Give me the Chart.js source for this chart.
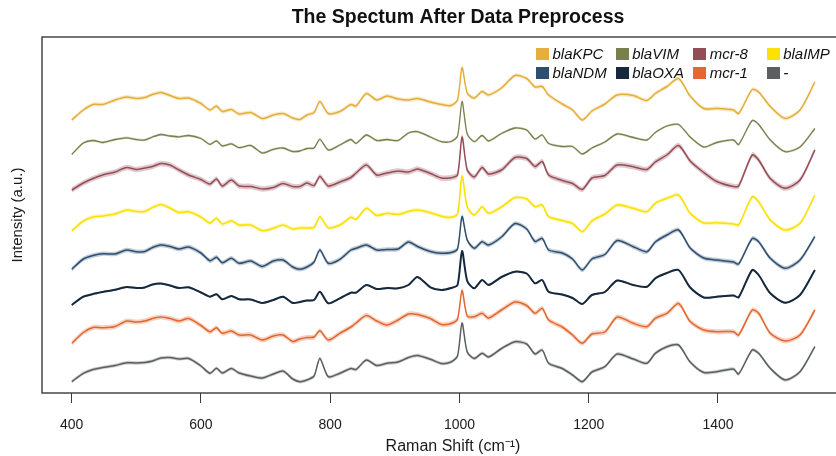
<!DOCTYPE html>
<html>
<head>
<meta charset="utf-8">
<script src="https://cdn.jsdelivr.net/npm/chart.js@4.4.1/dist/chart.umd.min.js"></script>
<style>
    html, body { margin: 0; padding: 0; background: #fff; overflow: hidden; }
    #wrap { position: relative; width: 916px; height: 456px; }
    #legend {
        position: absolute; left: 536px; top: 44px;
        display: grid; grid-template-columns: 79.7px 77.6px 73.4px auto;
        grid-auto-rows: 19px;
        font: italic 15px 'Liberation Sans', Arial, sans-serif; color: #111;
    }
    #legend .item { display: flex; align-items: center; white-space: nowrap; }
    #legend .box { width: 13px; height: 12px; margin-right: 3.5px; }
</style>
</head>
<body>
<div id="wrap">
    <canvas id="spectraChart" width="916" height="456"></canvas>
    <div id="legend"></div>
</div>
<script>
Chart.defaults.font.family = "'Liberation Sans', Arial, sans-serif";
Chart.defaults.color = '#1a1a1a';

// Raman shift grid (cm-1)
const ramanShift = [400, 418, 433, 448, 467, 485, 500, 513, 525, 538, 552, 566, 581, 600, 614, 624, 633, 647, 659, 677,
    695, 712, 727, 742, 753, 764, 775, 784, 797, 815, 832, 840, 856, 872, 888, 905, 921, 935, 955, 972,
    987, 997, 1004, 1012, 1023, 1035, 1045, 1065, 1086, 1104, 1117, 1128, 1138, 1159, 1175, 1190, 1205, 1225, 1244, 1269,
    1290, 1303, 1321, 1339, 1357, 1378, 1398, 1424, 1432, 1453, 1463, 1481, 1504, 1527, 1550];

const xTicks = [400, 600, 800, 1000, 1200, 1400];

const labels = ['blaKPC', 'blaVIM', 'mcr-8', 'blaIMP', 'blaNDM', 'blaOXA', 'mcr-1', '-'];
const colors = ['#E6AE3C', '#7A804C', '#944D57', '#FBE106', '#2F4F70', '#16293D', '#E2682F', '#5B5F61'];
// half width of the shaded band (a.u.)
const bandHalf = [2, 1.2, 2.8, 2, 2.2, 1, 2.5, 1.8];
const lineWidths = [1.5, 1.3, 1.5, 1.6, 1.5, 2, 1.5, 1.5];

// mean spectra, stacked with offsets (a.u.)
const blaKPC = [273, 283, 288.5, 288.5, 293, 296, 294.5, 295.5, 298.5, 300.5, 297.5, 294.5, 295, 289.5, 283, 287, 281.5, 283.5, 279, 280.5,
    274.5, 278, 279.5, 275, 273.5, 278, 280.5, 291.5, 279.5, 281.5, 288.5, 287, 299.5, 293, 297, 294, 293, 294.5, 291, 288.5,
    287.5, 293, 325.5, 300, 295, 301.5, 298, 305, 317.5, 314.5, 306, 306.5, 298, 289, 283, 273, 282, 289, 298, 297.5,
    292.5, 299.5, 306.5, 314.5, 297, 284.5, 284.5, 283, 279.5, 303.5, 301, 286.5, 274.5, 283, 311];
const blaVIM = [238.5, 250, 252.5, 250.5, 253.5, 255.2, 253.5, 253, 256, 258.5, 257, 256.2, 257.5, 254.5, 248.7, 252.2, 247, 249.2, 245.3, 247.5,
    240, 243.7, 245, 241.5, 242, 244.5, 245, 253.7, 243, 248, 253.5, 249.7, 258, 252.5, 253.5, 252.5, 260, 261.3, 256, 251.3,
    251.5, 257, 291.5, 259, 251.3, 257.5, 252, 259.5, 265, 263, 254, 258, 249.5, 246.5, 246.5, 239, 245, 251, 259, 255.5,
    253, 260.5, 267, 268.5, 256, 246, 250.5, 253, 248.5, 272.5, 268.5, 253, 241.3, 246, 264.5];
const mcr8 = [203, 210, 214.5, 218, 221, 225.5, 223.5, 225, 226.5, 229.5, 228, 223, 218, 213.5, 209, 214, 207, 213, 207, 206.5,
    204, 205.5, 209.5, 206.5, 206.5, 210, 207.5, 216.5, 207, 211, 215.5, 220, 228, 218, 220, 222, 221, 224, 219.5, 215,
    215.3, 218, 256, 223, 216, 225.5, 219, 223, 235.5, 234.5, 226.5, 231.5, 218, 212.5, 209.5, 203.5, 215, 217.5, 228, 226.3,
    223.5, 231, 238, 247.5, 232, 220.5, 211.5, 206.5, 207, 238, 233, 214.5, 204.7, 213, 243];
const blaIMP = [162, 172, 176, 177, 179, 183, 181.5, 181.5, 185.5, 188.5, 185, 180.5, 181.3, 176, 170, 174.7, 169, 172.3, 168, 168,
    162.3, 164.7, 168, 164, 165, 165, 165.5, 176.3, 165.3, 168, 175.7, 173.7, 184.7, 177.5, 179.7, 178.5, 181.5, 183, 180.3, 176.8,
    175.7, 179, 217, 186, 178, 186.3, 179.7, 186, 195.5, 194, 186.3, 188, 176.3, 172.5, 169.5, 161.3, 172, 179, 188, 184.7,
    181.3, 189.7, 194.7, 198, 179.7, 170, 170.3, 169, 168, 196.3, 191.3, 173, 163, 169.7, 198];
const blaNDM = [123.7, 134, 137.5, 139.3, 139, 143, 141.3, 141.5, 145.5, 148, 146.5, 144, 146, 140, 132.3, 135.7, 130.3, 134.7, 129.7, 132,
    126.5, 132, 133, 126, 123.7, 126, 131, 143, 129.7, 133.7, 143, 144.7, 148, 143, 143.5, 144, 151, 146.5, 141.5, 139.7,
    140.5, 144, 176.5, 153, 144.7, 151.3, 148, 156, 169.5, 164, 151.5, 154.7, 143, 140, 134, 123, 134, 138.5, 152.5, 146.3,
    141.3, 151, 158, 163, 145, 135, 133, 131, 129, 154.5, 151.3, 134.7, 124.7, 133, 156.3];
const blaOXA = [88, 96.3, 99, 101, 103.3, 106, 105, 105.5, 108.5, 109.5, 107.5, 105, 105.7, 100.5, 96.3, 98.7, 93.7, 97, 93.7, 93.5,
    90, 93, 96.3, 90, 91, 92.5, 93, 101.3, 89.7, 94.7, 100.3, 100.3, 108, 104, 105, 104.7, 108, 116, 105.7, 103,
    105, 108, 142, 112, 104.7, 113, 108, 116, 121.3, 119.5, 109.7, 113, 101.3, 98.5, 95, 89, 98, 101, 112.5, 108,
    106.3, 114.7, 120, 123, 105.5, 95.5, 96.3, 97.5, 95.7, 123, 118, 99.7, 90.3, 98, 123];
const mcr1 = [49.7, 60.5, 65.5, 65.3, 66.5, 72, 71, 72, 74.5, 76, 74.5, 72, 74.5, 67.5, 61.3, 65.3, 59.7, 62, 58, 58,
    53, 57, 58, 51.5, 54, 55.5, 56, 62.3, 53, 59.7, 66, 70, 77.5, 72, 68, 73, 79, 78.5, 74.5, 68.5,
    69.5, 74, 102.5, 77, 76.3, 79.7, 75, 83, 91, 87.5, 79.7, 84.7, 73, 66, 58, 49.7, 59, 61, 76, 69.7,
    66.3, 74.7, 79.7, 89.5, 71.5, 63, 61.3, 61.3, 58, 83, 79.7, 59.7, 52, 58, 83];
const noGene = [11.3, 19.7, 23.5, 25.5, 27.5, 30.3, 30, 30.5, 32, 35, 35.5, 34, 34.5, 27, 19.7, 24.7, 20, 24.5, 20, 17,
    15, 19, 22, 14, 11.3, 13, 17, 34.5, 16.3, 19.7, 24.5, 23.5, 33, 27.5, 29.7, 31, 35.5, 37.5, 33.7, 29.5,
    31, 37, 70, 41, 34.5, 39.7, 36, 44.5, 51.3, 49, 39, 43, 29.7, 24.5, 18, 11.3, 21, 26.3, 39, 34,
    29.7, 39.7, 46.3, 48, 31, 20.5, 21.3, 24, 19, 43, 39.7, 24.7, 13, 21.3, 46.3];

const spectra = [blaKPC, blaVIM, mcr8, blaIMP, blaNDM, blaOXA, mcr1, noGene];

function hexToRgba(hex, a) {
    const n = parseInt(hex.slice(1), 16);
    return `rgba(${(n >> 16) & 255}, ${(n >> 8) & 255}, ${n & 255}, ${a})`;
}

function toPoints(values, shift) {
    return ramanShift.map((x, j) => ({ x: x, y: values[j] + shift }));
}

// draws the closed frame around the plot area
const framePlugin = {
    id: 'frame',
    afterDraw(chart) {
        const { ctx, chartArea: a } = chart;
        ctx.save();
        ctx.strokeStyle = '#3a3a3a';
        ctx.lineWidth = 1.4;
        ctx.strokeRect(a.left, a.top, a.right - a.left, a.bottom - a.top);
        ctx.restore();
    }
};

function renderSpectra() {
    const datasets = [];
    spectra.forEach((values, i) => {
        // shaded band: lower edge, then upper edge filled down to it
        datasets.push({
            data: toPoints(values, -bandHalf[i]),
            borderWidth: 0, pointRadius: 0, tension: 0.25, fill: false
        });
        datasets.push({
            data: toPoints(values, bandHalf[i]),
            borderWidth: 0, pointRadius: 0, tension: 0.25, fill: '-1',
            backgroundColor: hexToRgba(colors[i], 0.3)
        });
        datasets.push({
            label: labels[i],
            data: toPoints(values, 0),
            borderColor: colors[i],
            borderWidth: lineWidths[i],
            pointRadius: 0,
            tension: 0.25,
            fill: false
        });
    });

    const ctx = document.getElementById('spectraChart').getContext('2d');
    new Chart(ctx, {
        type: 'line',
        data: { datasets },
        plugins: [framePlugin],
        options: {
            responsive: false,
            animation: false,
            devicePixelRatio: 1,
            layout: { padding: 0 },
            plugins: {
                legend: { display: false },
                tooltip: { enabled: false },
                title: {
                    display: true,
                    text: 'The Spectum After Data Preprocess',
                    color: '#111',
                    font: { size: 19.5, weight: 'bold' },
                    padding: { top: 6, bottom: 7.6 }
                }
            },
            scales: {
                x: {
                    type: 'linear',
                    min: 354,
                    max: 1626,
                    afterBuildTicks: s => { s.ticks = xTicks.map(v => ({ value: v })); },
                    afterFit: s => { s.height = 63; },
                    border: { display: false },
                    grid: { drawOnChartArea: false, tickLength: 10, color: '#3a3a3a', lineWidth: 1 },
                    ticks: {
                        font: { size: 14 }, color: '#1a1a1a', padding: 14, maxRotation: 0,
                        callback: v => String(v)
                    },
                    title: {
                        display: true,
                        text: 'Raman Shift (cm⁻¹)',
                        font: { size: 16 },
                        color: '#1a1a1a',
                        padding: { top: 0, bottom: 0 }
                    }
                },
                y: {
                    min: 0,
                    max: 356,
                    afterFit: s => { s.width = 42; },
                    border: { display: false },
                    grid: { display: false },
                    ticks: { display: false },
                    title: {
                        display: true,
                        text: 'Intensity (a.u.)',
                        font: { size: 15 },
                        color: '#1a1a1a',
                        padding: { top: 9, bottom: 0 }
                    }
                },
                // empty margin on the right, keeps the title centred on the canvas
                yRight: {
                    position: 'right',
                    display: true,
                    afterFit: s => { s.width = 52; },
                    border: { display: false },
                    grid: { display: false },
                    ticks: { display: false }
                }
            }
        }
    });
}

function renderLegend() {
    const box = document.getElementById('legend');
    labels.forEach((name, i) => {
        const item = document.createElement('div');
        item.className = 'item';
        item.innerHTML = `<span class="box" style="background:${colors[i]}"></span><span>${name}</span>`;
        box.appendChild(item);
    });
}

renderSpectra();
renderLegend();
</script>
